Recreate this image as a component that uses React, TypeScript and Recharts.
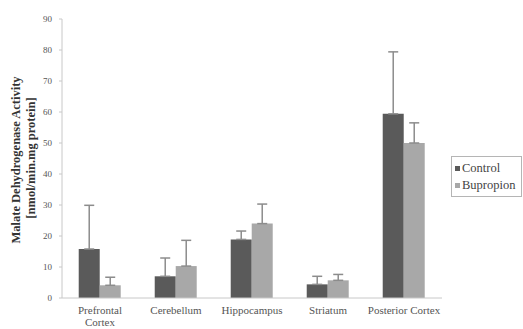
import React from 'react';
import { BarChart, Bar, XAxis, YAxis, ErrorBar } from 'recharts';

const regions = ['Prefrontal Cortex', 'Cerebellum', 'Hippocampus', 'Striatum', 'Posterior Cortex'];
const controlMean = [15.8, 7.0, 18.9, 4.4, 59.4];
const controlErr = [14.1, 5.9, 2.7, 2.6, 20.0];
const bupropionMean = [4.1, 10.3, 24.0, 5.7, 50.0];
const bupropionErr = [2.6, 8.3, 6.3, 1.9, 6.5];
const yTicks = [0, 10, 20, 30, 40, 50, 60, 70, 80, 90];

const data = regions.map((region, i) => ({
  region,
  control: controlMean[i],
  controlErr: [0, controlErr[i]],
  bupropion: bupropionMean[i],
  bupropionErr: [0, bupropionErr[i]],
}));

const FONT = '"Liberation Serif", "Times New Roman", "DejaVu Serif", serif';
const CONTROL = '#5a5a5a';
const BUPROPION = '#a8a8a8';
const WHISKER = '#8c8c8c';

const RegionTick = (props: any) => {
  const { x, y, payload } = props;
  const words: string[] = payload.value === 'Prefrontal Cortex' ? ['Prefrontal', 'Cortex'] : [payload.value];
  return (
    <text x={x} y={y} textAnchor="middle" fill="#555" fontSize={11} fontFamily={FONT}>
      {words.map((w, i) => (
        <tspan key={i} x={x} dy={i === 0 ? 8 : 12}>{w}</tspan>
      ))}
    </text>
  );
};

const AxisTitle = () => (
  <g fontFamily={FONT} fontWeight="bold" fontSize={12.5} fill="#333">
    <text transform="translate(20,160) rotate(-90)" textAnchor="middle">Malate Dehydrogenase Activity</text>
    <text transform="translate(35,158) rotate(-90)" textAnchor="middle">[nmol/min.mg protein]</text>
  </g>
);

const LegendBox = () => (
  <div
    style={{
      position: 'absolute',
      left: 451,
      top: 156,
      width: 71,
      height: 41,
      border: '1px solid #b5b5b5',
      boxSizing: 'border-box',
      fontFamily: FONT,
      fontSize: 12.5,
      color: '#444',
      background: '#fff',
      padding: '3px 0 0 3px',
      lineHeight: '17px',
    }}
  >
    {[
      { label: 'Control', color: CONTROL },
      { label: 'Bupropion', color: BUPROPION },
    ].map((e) => (
      <div key={e.label} style={{ display: 'flex', alignItems: 'center', whiteSpace: 'nowrap' }}>
        <span style={{ display: 'inline-block', width: 5, height: 5, background: e.color, marginRight: 2 }} />
        {e.label}
      </div>
    ))}
  </div>
);

export default function App() {
  return (
    <div style={{ position: 'absolute', left: 0, top: 0, width: 523, height: 329, background: '#fff' }}>
      <BarChart
        width={523}
        height={329}
        data={data}
        margin={{ top: 19, right: 81, bottom: 0, left: 0 }}
        barCategoryGap="22%"
        barGap={0}
      >
        <XAxis
          dataKey="region"
          height={31}
          axisLine={{ stroke: '#c8c8c8' }}
          tickLine={false}
          tick={<RegionTick />}
          interval={0}
        />
        <YAxis
          width={62}
          domain={[0, 90]}
          ticks={yTicks}
          axisLine={{ stroke: '#c8c8c8' }}
          tickLine={{ stroke: '#c8c8c8' }}
          tickSize={3}
          tickMargin={7}
          tick={{ fontSize: 9, fill: '#555', fontFamily: FONT }}
        />
        <Bar dataKey="control" fill={CONTROL} isAnimationActive={false}>
          <ErrorBar dataKey="controlErr" width={5} stroke={WHISKER} strokeWidth={1.5} direction="y" />
        </Bar>
        <Bar dataKey="bupropion" fill={BUPROPION} isAnimationActive={false}>
          <ErrorBar dataKey="bupropionErr" width={5} stroke={WHISKER} strokeWidth={1.5} direction="y" />
        </Bar>
        <AxisTitle />
      </BarChart>
      <LegendBox />
    </div>
  );
}
